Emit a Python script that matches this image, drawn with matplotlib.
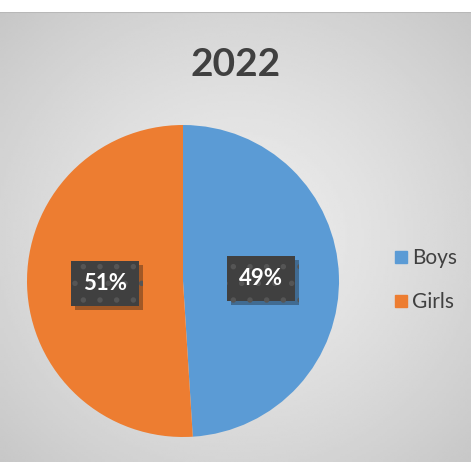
import numpy as np
import matplotlib.pyplot as plt
from matplotlib.lines import Line2D
import matplotlib.patheffects as pe

labels = ["Boys", "Girls"]
shares = [49, 51]
colors = ["#5B9BD5", "#ED7D31"]
title = "2022"

plt.rcParams['font.family'] = ['Lato', 'DejaVu Sans']
plt.rcParams['hatch.linewidth'] = 1.5

W, H = 471, 462
fig = plt.figure(figsize=(W/100, H/100), dpi=100)
fig.patch.set_facecolor('white')

# radial gradient background below the white top strip
bg = fig.add_axes([0, 0, 1, 450/H])
yy, xx = np.mgrid[0:200, 0:200]
r = np.hypot((xx-100)/100, (yy-100)/100)
grad = 0.93 - 0.15*np.clip(r/1.41, 0, 1)**1.3
bg.imshow(grad, cmap='gray', vmin=0, vmax=1, aspect='auto', extent=[0, 1, 0, 1])
bg.axhline(1, color='#b8b8b8', lw=1.5)
bg.set_axis_off()

fig.text(236/W, 1-64/H, title, ha='center', va='center', fontsize=28,
         fontweight='bold', color='#404040')

R = 156
cx, cy = 183, H-281
ax = fig.add_axes([(cx-R)/W, (cy-R)/H, 2*R/W, 2*R/H])
wedges, texts, autotexts = ax.pie(shares, colors=colors, startangle=90, counterclock=False,
                                  autopct='%d%%', pctdistance=0.5,
                                  textprops=dict(color='white', fontsize=16, fontweight='bold'))
ax.set_xlim(-1, 1)
ax.set_ylim(-1, 1)
ax.set_axis_off()

for t in autotexts:
    t.set_bbox(dict(boxstyle='square,pad=0.55', fc='#404040', ec='#555555', lw=0, hatch='.'))
    t.get_bbox_patch().set_path_effects([pe.SimplePatchShadow(offset=(3, -3), alpha=0.35), pe.Normal()])

handles = [Line2D([], [], marker='s', ls='none', markersize=8.6, markerfacecolor=c,
                  markeredgecolor=c) for c in colors]
leg = fig.legend(handles, labels, loc='center left', bbox_to_anchor=(376/W, 1-280/H),
                 frameon=False, fontsize=15, handlelength=0.6, handletextpad=0.25,
                 labelspacing=1.15, labelcolor='#404040')

fig.savefig("out.png", dpi=100)
